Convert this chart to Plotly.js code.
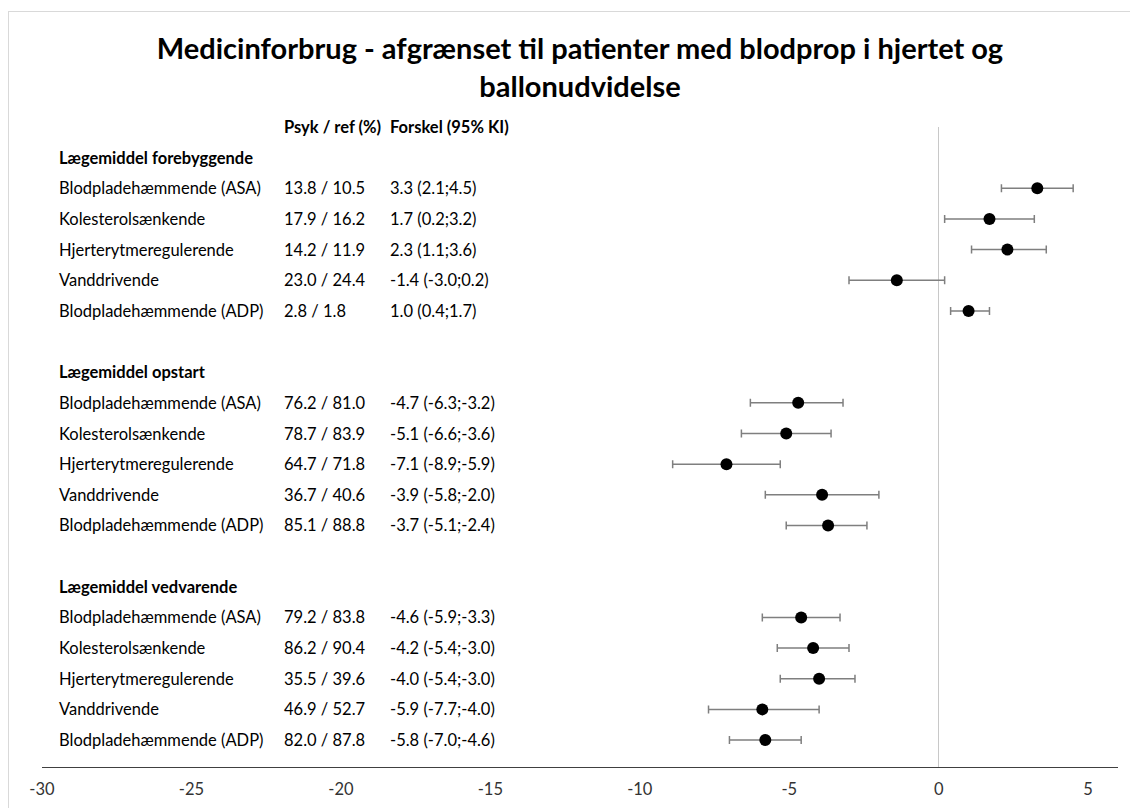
<!DOCTYPE html>
<html>
<head>
<meta charset="utf-8">
<script src="https://cdn.plot.ly/plotly-3.0.1.min.js"></script>
<style>
  html, body { margin: 0; padding: 0; background: #fff; }
  #wrap { position: relative; width: 1130px; height: 808px; overflow: hidden; }
  #chart { position: absolute; left: 0; top: 0; width: 1130px; height: 808px; }
  #frame { position: absolute; left: 8px; top: 11px; width: 1200px; height: 900px;
           border: 1px solid #d9d9d9; pointer-events: none; }
</style>
</head>
<body>
<div id="wrap"><div id="chart"></div><div id="frame"></div></div>
<script>
// ---- data ----
const groupNames = ['Lægemiddel forebyggende', 'Lægemiddel opstart', 'Lægemiddel vedvarende'];
const drugNames = ['Blodpladehæmmende (ASA)', 'Kolesterolsænkende', 'Hjerterytmeregulerende', 'Vanddrivende', 'Blodpladehæmmende (ADP)'];
const headerRate = 'Psyk / ref (%)';
const headerDiff = 'Forskel (95% KI)';

const rateForebyg = ['13.8 / 10.5', '17.9 / 16.2', '14.2 / 11.9', '23.0 / 24.4', '2.8 / 1.8'];
const rateOpstart = ['76.2 / 81.0', '78.7 / 83.9', '64.7 / 71.8', '36.7 / 40.6', '85.1 / 88.8'];
const rateVedv    = ['79.2 / 83.8', '86.2 / 90.4', '35.5 / 39.6', '46.9 / 52.7', '82.0 / 87.8'];

const diffTextForebyg = ['3.3 (2.1;4.5)', '1.7 (0.2;3.2)', '2.3 (1.1;3.6)', '-1.4 (-3.0;0.2)', '1.0 (0.4;1.7)'];
const diffTextOpstart = ['-4.7 (-6.3;-3.2)', '-5.1 (-6.6;-3.6)', '-7.1 (-8.9;-5.9)', '-3.9 (-5.8;-2.0)', '-3.7 (-5.1;-2.4)'];
const diffTextVedv    = ['-4.6 (-5.9;-3.3)', '-4.2 (-5.4;-3.0)', '-4.0 (-5.4;-3.0)', '-5.9 (-7.7;-4.0)', '-5.8 (-7.0;-4.6)'];

const estForebyg = [3.3, 1.7, 2.3, -1.4, 1.0];
const lowForebyg = [2.1, 0.2, 1.1, -3.0, 0.4];
const highForebyg = [4.5, 3.2, 3.6, 0.2, 1.7];

const estOpstart = [-4.7, -5.1, -7.1, -3.9, -3.7];
const lowOpstart = [-6.3, -6.6, -8.9, -5.8, -5.1];
const highOpstart = [-3.2, -3.6, -5.3, -2.0, -2.4];

const estVedv = [-4.6, -4.2, -4.0, -5.9, -5.8];
const lowVedv = [-5.9, -5.4, -5.3, -7.7, -7.0];
const highVedv = [-3.3, -3.0, -2.8, -4.0, -4.6];

const xTicks = [-30, -25, -20, -15, -10, -5, 0, 5];

// ---- build ----
const groups = [
  {name: groupNames[0], rate: rateForebyg, txt: diffTextForebyg, est: estForebyg, lo: lowForebyg, hi: highForebyg},
  {name: groupNames[1], rate: rateOpstart, txt: diffTextOpstart, est: estOpstart, lo: lowOpstart, hi: highOpstart},
  {name: groupNames[2], rate: rateVedv, txt: diffTextVedv, est: estVedv, lo: lowVedv, hi: highVedv}
];

const COL1 = -29.5, COL2 = -21.97, COL3 = -18.42;
const FONT = 'Lato, "Open Sans", sans-serif';
const FS = 16.5;

const annotations = [];
function addText(x, y, text, bold) {
  annotations.push({
    x: x, y: y, xref: 'x', yref: 'y', text: bold ? '<b>' + text + '</b>' : text,
    showarrow: false, xanchor: 'left', yanchor: 'middle',
    font: {family: FONT, size: FS, color: '#000'}
  });
}
addText(COL2, 0, headerRate, true);
addText(COL3, 0, headerDiff, true);

const xs = [], ys = [], ep = [], em = [];
groups.forEach((g, gi) => {
  const start = 1 + gi * 7;
  addText(COL1, start, g.name, true);
  drugNames.forEach((d, i) => {
    const row = start + 1 + i;
    addText(COL1, row, d, false);
    addText(COL2, row, g.rate[i], false);
    addText(COL3, row, g.txt[i], false);
    xs.push(g.est[i]);
    ys.push(row);
    ep.push(+(g.hi[i] - g.est[i]).toFixed(3));
    em.push(+(g.est[i] - g.lo[i]).toFixed(3));
  });
});

const trace = {
  type: 'scatter', mode: 'markers', x: xs, y: ys,
  marker: {color: '#000', size: 12, symbol: 'circle'},
  error_x: {type: 'data', symmetric: false, array: ep, arrayminus: em,
            color: '#7f7f7f', thickness: 1.5, width: 4},
  hoverinfo: 'x', cliponaxis: false
};

const layout = {
  width: 1130, height: 808,
  margin: {l: 42, r: 12, t: 127, b: 41},
  paper_bgcolor: '#fff', plot_bgcolor: '#fff',
  showlegend: false,
  title: {
    text: 'Medicinforbrug - afgrænset til patienter med blodprop i hjertet og<br>ballonudvidelse',
    font: {family: FONT, size: 29, color: '#000', weight: 700},
    x: 0.5, xref: 'paper', xanchor: 'center',
    y: 1 - 59 / 808, yref: 'container', yanchor: 'middle'
  },
  xaxis: {
    range: [-30, 6], tickvals: xTicks, ticktext: xTicks.map(String),
    showgrid: false, zeroline: true, zerolinecolor: '#c8c8c8', zerolinewidth: 1.5,
    showline: true, linecolor: '#404040', linewidth: 1.3,
    ticks: '', ticklabelstandoff: 7, tickfont: {family: FONT, size: FS, color: '#333'},
    fixedrange: true
  },
  yaxis: {range: [20.88, 0], visible: false, fixedrange: true},
  annotations: annotations
};

Plotly.newPlot('chart', [trace], layout, {displayModeBar: false, staticPlot: true});
</script>
</body>
</html>
